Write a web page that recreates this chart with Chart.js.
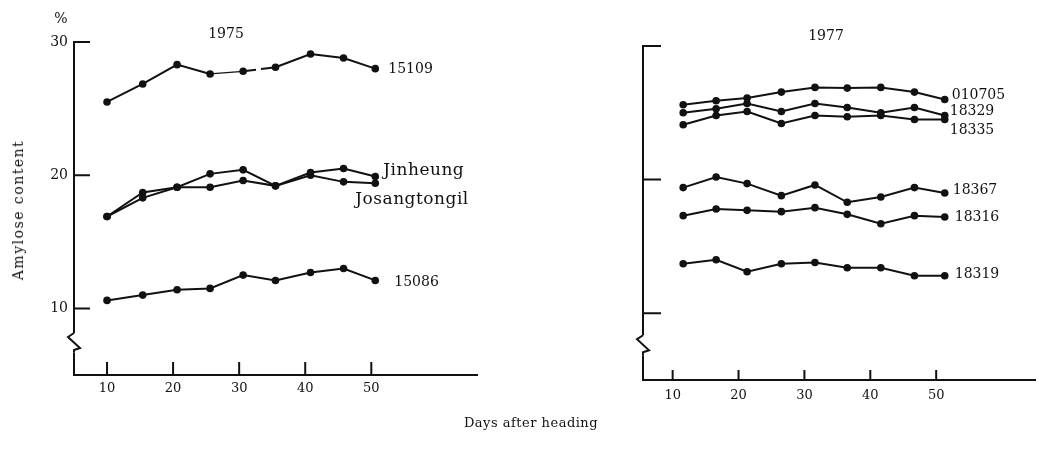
<!DOCTYPE html>
<html>
<head>
<meta charset="utf-8">
<script src="https://cdn.jsdelivr.net/npm/chart.js@4.4.1/dist/chart.umd.min.js"></script>
<style>
  html, body { margin: 0; padding: 0; background: #fff; }
  #wrap { position: relative; width: 1039px; height: 449px; overflow: hidden; font-family: "DejaVu Serif", serif; color: #111; }
  .box { position: absolute; top: 0; height: 449px; }
  .txt { position: absolute; white-space: nowrap; transform: translate(-50%, -50%); }
</style>
</head>
<body>
<div id="wrap">
  <div class="box" style="left:0;width:520px"><canvas id="left"></canvas></div>
  <div class="box" style="left:520px;width:519px"><canvas id="right"></canvas></div>
  <div class="txt" style="left:61px;top:18px;font-size:14px">%</div>
  <div class="txt" style="left:226px;top:33px;font-size:14px">1975</div>
  <div class="txt" style="left:826px;top:35px;font-size:14px">1977</div>
  <div class="txt" style="left:18px;top:210px;font-size:14px;letter-spacing:1.5px;transform:translate(-50%,-50%) rotate(-90deg)">Amylose content</div>
  <div class="txt" style="left:531px;top:422px;font-size:13px;letter-spacing:0.5px">Days after heading</div>
</div>
<script>
// 1975 panel
const leftDays = [10, 15.4, 20.6, 25.6, 30.6, 35.5, 40.8, 45.8, 50.6];
const s15109 = [25.5, 26.85, 28.3, 27.6, 27.8, 28.1, 29.1, 28.8, 28.0];
const jinheung = [16.9, 18.7, 19.1, 20.1, 20.4, 19.2, 20.2, 20.5, 19.9];
const josangtongil = [16.9, 18.3, 19.1, 19.1, 19.6, 19.2, 20.0, 19.5, 19.4];
const s15086 = [10.6, 11.0, 11.4, 11.5, 12.5, 12.1, 12.7, 13.0, 12.1];

// 1977 panel
const rightDays = [11.6, 16.6, 21.3, 26.5, 31.6, 36.5, 41.6, 46.7, 51.3];
const s010705 = [25.6, 25.9, 26.1, 26.55, 26.9, 26.85, 26.9, 26.55, 26.0];
const s18329 = [25.0, 25.3, 25.7, 25.1, 25.7, 25.4, 25.0, 25.4, 24.8];
const s18335 = [24.1, 24.8, 25.1, 24.2, 24.8, 24.7, 24.8, 24.5, 24.5];
const s18367 = [19.4, 20.2, 19.7, 18.8, 19.6, 18.3, 18.7, 19.4, 19.0];
const s18316 = [17.3, 17.8, 17.7, 17.6, 17.9, 17.4, 16.7, 17.3, 17.2];
const s18319 = [13.7, 14.0, 13.1, 13.7, 13.8, 13.4, 13.4, 12.8, 12.8];

// tick labels
const xTicks = [10, 20, 30, 40, 50];
const yTicks = [10, 20, 30];

const ink = '#111';

// inward tick marks, axis break and end-of-line labels
const decor = {
    id: 'decor',
    afterDraw(chart, args, o) {
        const ctx = chart.ctx;
        const xs = chart.scales.x, ys = chart.scales.y;
        const x0 = chart.chartArea.left, yb = chart.chartArea.bottom;
        ctx.save();
        ctx.strokeStyle = ink;
        ctx.lineWidth = 2;
        ctx.beginPath();
        yTicks.forEach(v => {
            const py = ys.getPixelForValue(v);
            ctx.moveTo(x0, py);
            ctx.lineTo(x0 + o.yLen, py);
        });
        xTicks.forEach(v => {
            const px = xs.getPixelForValue(v);
            ctx.moveTo(px, yb);
            ctx.lineTo(px, yb - o.xLen);
        });
        ctx.stroke();

        // axis break
        const b1 = ys.getPixelForValue(o.breakFrom);
        const b2 = ys.getPixelForValue(o.breakTo);
        ctx.fillStyle = '#fff';
        ctx.fillRect(x0 - 3, b1, 6, b2 - b1);
        ctx.beginPath();
        ctx.moveTo(x0, b1);
        ctx.lineTo(x0 - 6, b1 + 4);
        ctx.lineTo(x0 + 6, b1 + 15);
        ctx.lineTo(x0, b1 + 17);
        ctx.lineTo(x0, b2);
        ctx.stroke();

        // series names
        ctx.fillStyle = ink;
        ctx.textBaseline = 'middle';
        chart.data.datasets.forEach((ds, i) => {
            const pts = chart.getDatasetMeta(i).data;
            const last = pts[pts.length - 1];
            const off = o.offsets[ds.label] || [10, 0];
            const isNum = /^\d/.test(ds.label);
            ctx.font = isNum ? '14px "DejaVu Serif"' : '17px "DejaVu Serif"';
            ctx.letterSpacing = isNum ? '0px' : '0.5px';
            ctx.fillText(ds.label, last.x + off[0], last.y + off[1]);
        });
        ctx.restore();
    }
};

function series(name, days, vals, extra) {
    return Object.assign({
        label: name,
        data: days.map((d, i) => ({ x: d, y: vals[i] })),
        borderColor: ink,
        backgroundColor: ink,
        borderWidth: 2,
        pointRadius: 3.8,
        pointBorderWidth: 0,
        tension: 0
    }, extra || {});
}

function makeChart(id, datasets, cfg) {
    return new Chart(document.getElementById(id), {
        type: 'line',
        data: { datasets: datasets },
        options: {
            responsive: true,
            maintainAspectRatio: false,
            animation: false,
            layout: { padding: cfg.padding },
            scales: {
                x: {
                    type: 'linear',
                    min: cfg.xMin,
                    max: cfg.xMax,
                    afterBuildTicks: s => { s.ticks = xTicks.map(v => ({ value: v })); },
                    afterFit: s => { s.height = 30; },
                    grid: { display: false, drawTicks: false },
                    border: { color: ink, width: 2 },
                    ticks: { color: ink, padding: cfg.xPad, font: { family: 'DejaVu Serif', size: 13 } }
                },
                y: {
                    min: 5,
                    max: 30,
                    afterBuildTicks: s => { s.ticks = yTicks.map(v => ({ value: v })); },
                    afterFit: s => { s.width = cfg.yWidth; },
                    grid: { display: false, drawTicks: false },
                    border: { color: ink, width: 2 },
                    ticks: { display: cfg.yLabels, color: ink, padding: 6, font: { family: 'DejaVu Serif', size: 14 } }
                }
            },
            plugins: {
                legend: { display: false },
                tooltip: { enabled: false },
                decor: cfg.decor
            }
        },
        plugins: [decor]
    });
}

makeChart('left', [
    series('15109', leftDays, s15109, {
        segment: {
            borderDash: c => c.p0DataIndex === 4 ? [13, 5] : undefined,
            borderWidth: c => c.p0DataIndex === 3 ? 1.2 : undefined
        }
    }),
    series('Jinheung', leftDays, jinheung),
    series('Josangtongil', leftDays, josangtongil),
    series('15086', leftDays, s15086)
], {
    padding: { left: 0, top: 42, right: 43, bottom: 44 },
    xMin: 5, xMax: 66, yWidth: 74, yLabels: true, xPad: 6,
    decor: {
        yLen: 16, xLen: 13, breakFrom: 8.15, breakTo: 6.7,
        offsets: { '15109': [13, 1], 'Jinheung': [8, -6], 'Josangtongil': [-20, 16], '15086': [19, 2] }
    }
});

makeChart('right', [
    series('010705', rightDays, s010705),
    series('18329', rightDays, s18329),
    series('18335', rightDays, s18335),
    series('18367', rightDays, s18367),
    series('18316', rightDays, s18316),
    series('18319', rightDays, s18319)
], {
    padding: { left: 0, top: 46, right: 0, bottom: 39 },
    xMin: 5.5, xMax: 65, yWidth: 123, yLabels: false, xPad: 8,
    decor: {
        yLen: 18, xLen: 10, breakFrom: 8.35, breakTo: 6.85,
        offsets: { '010705': [7, -4], '18329': [5, -4], '18335': [5, 11], '18367': [8, -3], '18316': [10, 0], '18319': [10, -1] }
    }
});
</script>
</body>
</html>
